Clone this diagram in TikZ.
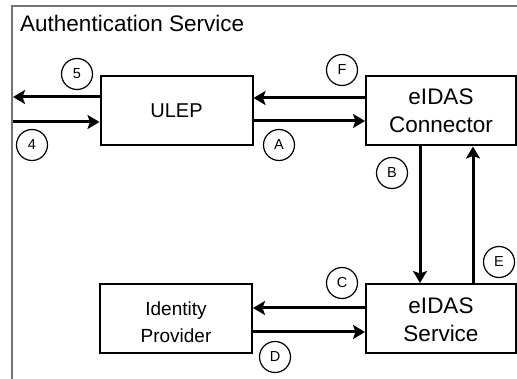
\documentclass[tikz,border=0pt]{standalone}
\usepackage{fontspec}
\setmainfont{Liberation Sans}
\usetikzlibrary{arrows.meta}

\begin{document}
\begin{tikzpicture}[
    x=1pt, y=-1pt,
    box/.style={draw, line width=2pt, minimum width=152pt, minimum height=69pt,
        align=center, inner sep=0pt, font=\fontsize{22.5}{27.5}\selectfont},
    flow/.style={line width=3pt, -{Stealth[length=12pt, width=14pt, inset=2.5pt]}},
    tag/.style={draw, circle, line width=1.2pt, minimum size=31pt, inner sep=0pt,
        font=\fontsize{14.5}{16}\selectfont}
]

\useasboundingbox (0,0) rectangle (517,379);

% service frame (runs off the page to the right and below)
\draw[black!55, line width=1.5pt] (12,379) -- (12,6) -- (517,6);
\node[anchor=base west, inner sep=0pt, font=\fontsize{22.5}{26}\selectfont]
    (title) at (20,32) {Authentication Service};

% boxes
\node[box, font=\fontsize{20}{24}\selectfont] (ulep) at (176.5,111) {ULEP};
\node[box, minimum width=150pt] (conn) at (441,111) {eIDAS\\Connector};
\node[box, minimum width=150pt] (svc)  at (441,318.5) {\rule{0pt}{18pt}eIDAS\\Service};
\node[box, font=\fontsize{19}{27.5}\selectfont] (idp) at (176,318.5)
    {\rule{0pt}{21pt}Identity\\Provider};

% free ends at the frame
\coordinate (out5) at (13,97);
\coordinate (in4)  at (13,122);

% user side
\draw[flow] ([yshift=14pt]ulep.west) -- (out5);
\draw[flow] (in4) -- ([yshift=-11pt]ulep.west);

% ULEP <-> connector
\draw[flow] ([yshift=13pt]conn.west) -- ([yshift=13pt]conn.west -| ulep.east);
\draw[flow] ([yshift=-10pt]ulep.east) -- ([yshift=-10pt]ulep.east -| conn.west);

% connector <-> service
\draw[flow] ([xshift=-21pt]conn.south) -- ([xshift=-21pt]svc.north);
\draw[flow] ([xshift=32pt]svc.north) -- ([xshift=32pt]conn.south);

% service <-> identity provider
\draw[flow] ([yshift=10.5pt]svc.west) -- ([yshift=10.5pt]svc.west -| idp.east);
\draw[flow] ([yshift=-13.5pt]idp.east) -- ([yshift=-13.5pt]idp.east -| svc.west);

% step labels
\node[tag] (t5) at (77,74)   {5};
\node[tag] (t4) at (32,145)  {4};
\node[tag] (tF) at (342,70)  {F};
\node[tag] (tA) at (279,145) {A};
\node[tag] (tB) at (392,173) {B};
\node[tag] (tE) at (499,262) {E};
\node[tag] (tC) at (342,283) {C};
\node[tag] (tD) at (275,357) {D};

\end{tikzpicture}
\end{document}
